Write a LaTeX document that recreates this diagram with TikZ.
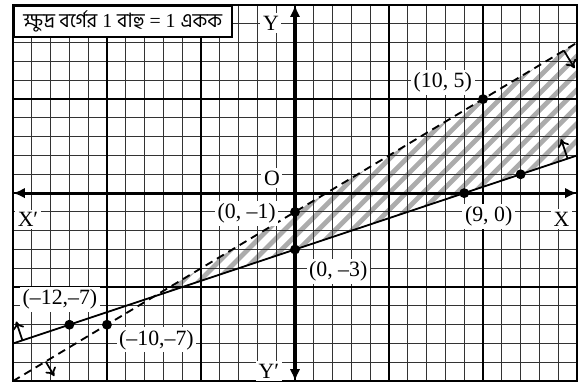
\documentclass[tikz,border=0pt]{standalone}
\usepackage{fontspec}
\setmainfont{Liberation Serif}
\newfontfamily\bnfont[Script=Bengali]{Hind Siliguri}
\usetikzlibrary{arrows.meta}

\tikzset{
  gridthin/.style={black!80,line width=0.8pt},
  gridthick/.style={black,line width=1.5pt},
  axis/.style={line width=2.4pt,{Latex[length=9pt,width=8pt]}-{Latex[length=9pt,width=8pt]}},
  lbl/.style={fill=white,inner sep=2pt,font=\fontsize{16.5}{18}\selectfont},
  pt/.style={circle,fill=black,inner sep=0pt,minimum size=7.5pt},
  stripe/.style={gray!65,line width=3.6pt},
  side/.style={line width=1.3pt,-{To[length=6pt,width=9pt]}}
}

\begin{document}
\begin{tikzpicture}[scale=0.5]
\useasboundingbox (-15.69,-10.05) rectangle (15.37,10.27);

% Region rayada entre las dos rectas
\coordinate (I) at (-7.5,-5.5);
\coordinate (dL) at (-15,-10);
\coordinate (dR) at (15,8);
\coordinate (sL) at (-15,-8);
\coordinate (sR) at (15,2);
\begin{scope}
\clip (I) -- (dR) -- (sR) -- cycle;
\foreach \k in {-14,-13.1,...,5} \draw[stripe] (\k,-10) -- ++(25,25);
\end{scope}

% Cuadricula
\draw[gridthin] (-15,-10) grid (15,10);
\draw[gridthick] (-15,-10) grid[step=5] (15,10);
\draw[line width=1.5pt] (-15,-10) rectangle (15,10);

% Titulo
\node[draw,line width=1.2pt,fill=white,anchor=north west,minimum width=5.8cm,minimum height=0.8cm,
  font=\fontsize{15}{17}\selectfont] (title) at (-15,10)
  {{\bnfont ক্ষুদ্র বর্গের} 1 {\bnfont বাহু} = 1 {\bnfont একক}};

% Ejes
\coordinate (xl) at (-15,0);
\coordinate (xr) at (15,0);
\coordinate (yt) at (0,10);
\coordinate (yb) at (0,-10);
\draw[axis] (xl) -- (xr);
\draw[axis] (yt) -- (yb);

% Rectas
\draw[line width=1.4pt,dash pattern=on 6pt off 4pt] (dL) -- (dR);
\draw[line width=1.4pt] (sL) -- (sR);

% Flechas de lado
\coordinate (a1) at (14.3,7.58);
\coordinate (b1) at (14.87,6.64);
\coordinate (a2) at (14.5,1.83);
\coordinate (b2) at (14.15,2.87);
\coordinate (a3) at (-14.5,-7.83);
\coordinate (b3) at (-14.83,-6.83);
\coordinate (a4) at (-13.26,-8.96);
\coordinate (b4) at (-12.8,-9.73);
\draw[side] (a1) -- (b1);
\draw[side] (a2) -- (b2);
\draw[side] (a3) -- (b3);
\draw[side] (a4) -- (b4);

% Etiquetas
\node[lbl] (lY) at (-1.28,9.04) {Y};
\node[lbl] (lYp) at (-1.39,-9.47) {Y′};
\node[lbl] (lX) at (14.17,-1.39) {X};
\node[lbl] (lXp) at (-14.2,-1.4) {X′};
\node[lbl] (lO) at (-1.23,0.8) {O};
\node[lbl] (l105) at (7.86,5.88) {(10, 5)};
\node[lbl] (l90) at (10.3,-1.23) {(9, 0)};
\node[lbl] (l0m1) at (-2.57,-1.07) {(0, –1)};
\node[lbl] (l0m3) at (2.3,-4.17) {(0, –3)};
\node[lbl] (lm12) at (-12.5,-5.67) {(–12,–7)};
\node[lbl] (lm10) at (-7.37,-7.8) {(–10,–7)};

% Puntos
\node[pt] (p105) at (10,5) {};
\node[pt] (p90) at (9,0) {};
\node[pt] (p0m1) at (0,-1) {};
\node[pt] (p0m3) at (0,-3) {};
\node[pt] (pm12) at (-12,-7) {};
\node[pt] (pm10) at (-10,-7) {};
\node[pt] (p121) at (12,1) {};

\end{tikzpicture}
\end{document}
